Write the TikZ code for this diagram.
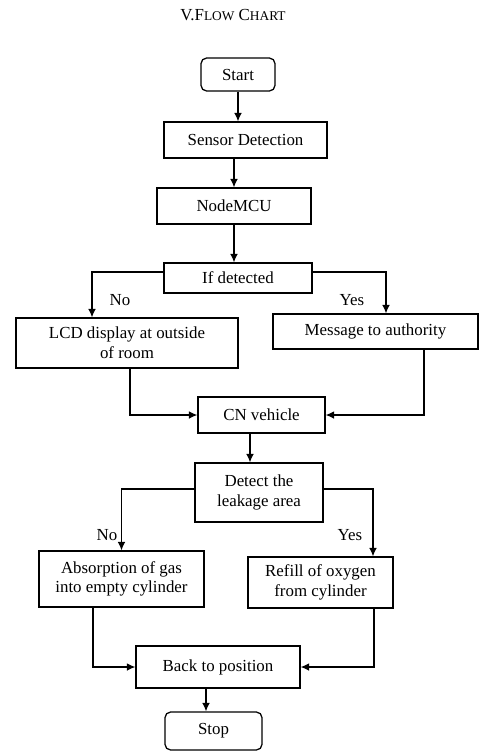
\documentclass[tikz,border=0pt]{standalone}
\usepackage{fontspec}
\setmainfont{Liberation Serif}
\usetikzlibrary{shapes,arrows,arrows.meta,positioning,calc}

\tikzset{
  box/.style={draw, line width=0.9pt, align=center, inner sep=2pt,
    font=\fontsize{12}{14}\selectfont},
  term/.style={box, rounded corners=4pt},
  arr/.style={-{Latex[length=6pt,width=5.5pt]}, line width=0.9pt},
  lbl/.style={font=\fontsize{12}{14}\selectfont}
}

\begin{document}
\begin{tikzpicture}[x=0.025cm, y=-0.025cm]
    \useasboundingbox (0,0) rectangle (481,752);

    % Title
    \node (title) at (233,15) {\fontsize{12}{14}\selectfont V.F{\fontsize{9.5}{11}\selectfont LOW} C{\fontsize{9.5}{11}\selectfont HART}};

    % Main column
    \node[term, minimum width=1.85cm, minimum height=0.825cm] (start) at (238,74.5) {Start};
    \node[box, minimum width=4.075cm, minimum height=0.9cm] (sensor) at (245.5,140) {Sensor Detection};
    \node[box, minimum width=3.85cm, minimum height=0.9cm] (mcu) at (234,206) {NodeMCU};
    \node[box, minimum width=3.7cm, minimum height=0.75cm] (ifdet) at (238,278) {If detected};

    % First branch
    \node[box, minimum width=5.55cm, minimum height=1.25cm] (lcd) at (127,343) {LCD display at outside\\of room};
    \node[box, minimum width=5.125cm, minimum height=0.875cm] (msg) at (375.5,331.5) {Message to authority};
    \node[box, minimum width=3.175cm, minimum height=0.9cm] (cn) at (261.5,415) {CN vehicle};
    \node[box, minimum width=3.2cm, minimum height=1.475cm] (detect) at (259,492.5) {Detect the\\leakage area};

    % Second branch
    \node[box, minimum width=4.125cm, minimum height=1.4cm] (absorb) at (121.5,579) {Absorption of gas\\into empty cylinder};
    \node[box, minimum width=3.625cm, minimum height=1.275cm] (refill) at (320.5,582.5) {Refill of oxygen\\from cylinder};
    \node[box, minimum width=4.1cm, minimum height=1.05cm] (back) at (218,667) {Back to position};
    \node[term, minimum width=2.425cm, minimum height=0.95cm] (stop) at (213.5,731) {Stop};

    % Branch labels
    \node[lbl] (no1) at (120,300) {No};
    \node[lbl] (yes1) at (352,300) {Yes};
    \node[lbl] (no2) at (107,535) {No};
    \node[lbl] (yes2) at (350,535) {Yes};

    % Connection points
    \coordinate (ifw) at ($(ifdet.west)+(0,-6)$);
    \coordinate (ife) at ($(ifdet.east)+(0,-6)$);
    \coordinate (lcdin) at ($(lcd.north)+(-35,0)$);
    \coordinate (msgin) at ($(msg.north)+(10.5,0)$);
    \coordinate (lcdout) at ($(lcd.south)+(3,0)$);
    \coordinate (msgout) at ($(msg.south)+(48.5,0)$);
    \coordinate (cnout) at ($(cn.south)+(-11.5,0)$);
    \coordinate (dtw) at ($(detect.west)+(0,-3.5)$);
    \coordinate (dte) at ($(detect.east)+(0,-3.5)$);
    \coordinate (refin) at ($(refill.north)+(52.5,0)$);
    \coordinate (absout) at ($(absorb.south)+(-28.5,0)$);
    \coordinate (refout) at ($(refill.south)+(53.5,0)$);
    \coordinate (backout) at ($(back.south)+(-12,0)$);

    % Arrows
    \draw[arr] (start.south) -- (start.south |- sensor.north);
    \draw[arr] (mcu.north |- sensor.south) -- (mcu.north);
    \draw[arr] (mcu.south) -- (mcu.south |- ifdet.north);
    \draw[arr] (ifw) -| (lcdin);
    \draw[arr] (ife) -| (msgin);
    \draw[arr] (lcdout) |- (cn.west);
    \draw[arr] (msgout) |- (cn.east);
    \draw[arr] (cnout) -- (cnout |- detect.north);
    \draw[arr] (dtw) -| (absorb.north);
    \draw[arr] (dte) -| (refin);
    \draw[arr] (absout) |- (back.west);
    \draw[arr] (refout) |- (back.east);
    \draw[arr] (backout) -- (backout |- stop.north);
\end{tikzpicture}
\end{document}
